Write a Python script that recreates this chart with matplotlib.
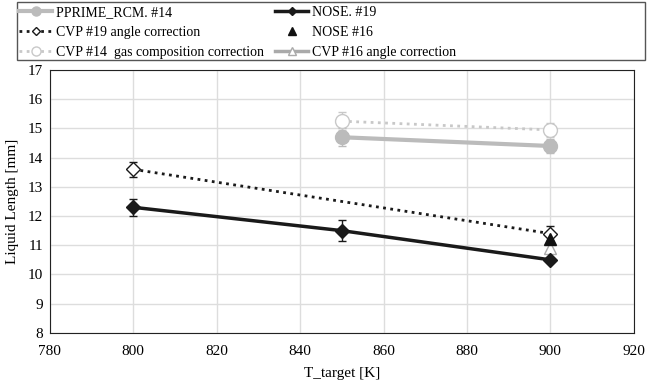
import matplotlib
matplotlib.use("Agg")
import matplotlib.pyplot as plt
from matplotlib.patches import Rectangle

plt.rcParams['font.family'] = ['Liberation Serif', 'DejaVu Serif']

# Data
pprime_x = [850, 900]
pprime_y = [14.7, 14.4]
pprime_err = [0.3, 0.25]

nose19_x = [800, 850, 900]
nose19_y = [12.3, 11.5, 10.5]
nose19_err = [0.3, 0.35, 0.0]

cvp19_x = [800, 900]
cvp19_y = [13.6, 11.4]
cvp19_err = [0.25, 0.25]

nose16_x = [900]
nose16_y = [11.2]

cvp14_x = [850, 900]
cvp14_y = [15.25, 14.95]
cvp14_err = [0.3, 0.25]

cvp16_x = [900]
cvp16_y = [10.9]

fig = plt.figure(figsize=(6.48, 3.83), dpi=100)
ax = fig.add_axes([0.077, 0.131, 0.901, 0.686])

h1 = ax.errorbar(pprime_x, pprime_y, yerr=pprime_err, color='#bbbbbb', lw=3,
                 marker='o', ms=10, capsize=3, elinewidth=1, label='PPRIME_RCM. #14', zorder=3)
h4 = ax.errorbar(cvp14_x, cvp14_y, yerr=cvp14_err, color='#c8c8c8', lw=2, ls=(0, (1, 1.6)),
                 marker='o', ms=10, mfc='white', capsize=3, elinewidth=1,
                 label='CVP #14  gas composition correction', zorder=3)
h2 = ax.errorbar(nose19_x, nose19_y, yerr=nose19_err, color='#1a1a1a', lw=2.5,
                 marker='D', ms=7, capsize=3, elinewidth=1, label='NOSE. #19', zorder=4)
h3 = ax.errorbar(cvp19_x, cvp19_y, yerr=cvp19_err, color='#1a1a1a', lw=2, ls=(0, (1, 1.6)),
                 marker='D', ms=7, mfc='white', capsize=3, elinewidth=1,
                 label='CVP #19 angle correction', zorder=4)
h6, = ax.plot(cvp16_x, cvp16_y, color='#aaaaaa', lw=2.5, marker='^', ms=8, mfc='white',
              label='CVP #16 angle correction', zorder=3)
h5, = ax.plot(nose16_x, nose16_y, color='#111111', lw=0, marker='^', ms=8,
              label='NOSE #16', zorder=5)

ax.set_xlim(780, 920)
ax.set_ylim(8, 17)
ax.set_xticks(range(780, 921, 20))
ax.set_yticks(range(8, 18))
ax.grid(True, color='#dddddd', lw=1)
ax.set_axisbelow(True)
ax.tick_params(length=0, labelsize=11)
ax.tick_params(axis='x', pad=9)
ax.tick_params(axis='y', pad=5)
ax.set_xlabel('T_target [K]', fontsize=11, labelpad=6)
ax.set_ylabel('Liquid Length [mm]', fontsize=11, labelpad=6)
for s in ax.spines.values():
    s.set_color('#222222')

W, H = 648, 383
common = dict(loc='upper left', fontsize=10, frameon=False, borderpad=0.0,
              labelspacing=0.5, handlelength=2.4, handletextpad=0.3,
              borderaxespad=0.0, markerscale=0.65)
leg1 = fig.legend([h1[0], h3[0], h4[0]], [h1.get_label(), h3.get_label(), h4.get_label()],
                  bbox_to_anchor=(19 / W, 1 - 6 / H), **common)
leg2 = fig.legend([h2[0], h5, h6], [h2.get_label(), h5.get_label(), h6.get_label()],
                  bbox_to_anchor=(275 / W, 1 - 6 / H), **common)

frame = Rectangle((17 / W, 1 - 60 / H), (645 - 17) / W, (59 - 1) / H,
                  transform=fig.transFigure, fill=False, edgecolor='#555555', lw=1.0)
fig.patches.append(frame)

fig.savefig('out.png', dpi=100)
